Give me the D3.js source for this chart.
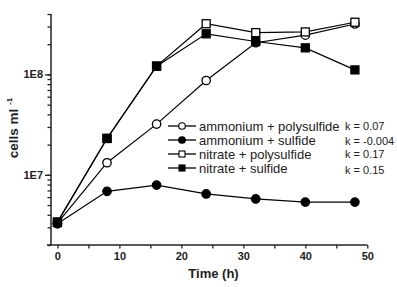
<!DOCTYPE html>
<html><head><meta charset="utf-8">
<script src="https://cdn.jsdelivr.net/npm/d3@7"></script>
<style>body{margin:0;background:#fff}svg{display:block}text{font-family:"Liberation Sans",Arial,sans-serif}</style>
</head><body>
<script>
const times = [0, 8, 16, 24, 32, 40, 48];
const seriesNames = ["ammonium + polysulfide", "ammonium + sulfide", "nitrate + polysulfide", "nitrate + sulfide"];
const kLabels = ["k = 0.07", "k = -0.004", "k = 0.17", "k = 0.15"];
const ammoniumPolysulfide = [3.3e6, 1.32e7, 3.2e7, 8.7e7, 2.07e8, 2.46e8, 3.18e8];
const ammoniumSulfide = [3.25e6, 6.85e6, 7.9e6, 6.45e6, 5.75e6, 5.35e6, 5.35e6];
const nitratePolysulfide = [3.4e6, 2.3e7, 1.21e8, 3.2e8, 2.61e8, 2.65e8, 3.31e8];
const nitrateSulfide = [3.35e6, 2.31e7, 1.21e8, 2.54e8, 2.13e8, 1.84e8, 1.11e8];
const xTicks = [0, 10, 20, 30, 40, 50];
const yLabelTicks = [1e7, 1e8];
const yLabelText = ["1E7", "1E8"];

const series = [
  {name: seriesNames[0], k: kLabels[0], values: ammoniumPolysulfide, shape: "circle", fill: "#fff"},
  {name: seriesNames[1], k: kLabels[1], values: ammoniumSulfide, shape: "circle", fill: "#000"},
  {name: seriesNames[2], k: kLabels[2], values: nitratePolysulfide, shape: "square", fill: "#fff"},
  {name: seriesNames[3], k: kLabels[3], values: nitrateSulfide, shape: "square", fill: "#000"}
];

const W = 397, H = 287;
const svg = d3.select("body").append("svg").attr("width", W).attr("height", H);
const x = d3.scaleLinear().domain([-1.2, 50]).range([50, 367.3]);
const y = d3.scaleLog().domain([2e6, 4e8]).range([245, 14]);

// y axis
const yMinor = [];
for (let d = 1e6; d <= 1e8; d *= 10) for (let m = 1; m <= 9; m++) { const v = m * d; if (v >= 2e6 && v <= 4e8) yMinor.push(v); }
const yAxis = d3.axisLeft(y).tickValues(yMinor).tickSize(3.5).tickFormat("");
const gy = svg.append("g").attr("transform", "translate(51,0)").call(yAxis);
gy.select(".domain").attr("d", "M0,14V245");
const gy2 = svg.append("g").attr("transform", "translate(51,0)")
  .call(d3.axisLeft(y).tickValues(yLabelTicks).tickSize(6).tickPadding(2).tickFormat((d, i) => yLabelText[i]));
gy2.select(".domain").remove();
svg.selectAll("g .tick line").attr("stroke", "#222").attr("stroke-width", 1.3);
gy.select(".domain").attr("stroke", "#222").attr("stroke-width", 1.5);
gy2.selectAll("text").attr("font-size", 11).attr("font-weight", "bold").attr("fill", "#222");

// x axis
const gx = svg.append("g").attr("transform", "translate(0,245)")
  .call(d3.axisBottom(x).tickValues(d3.range(0, 51, 5)).tickSize(3.5).tickFormat(""));
gx.select(".domain").attr("d", `M${x(-1.2) - 3},0H${x(50)}`).attr("stroke", "#222").attr("stroke-width", 1.5);
gx.selectAll(".tick line").attr("stroke", "#222").attr("stroke-width", 1.3);
const gx2 = svg.append("g").attr("transform", "translate(0,245)")
  .call(d3.axisBottom(x).tickValues(xTicks).tickSize(0).tickPadding(7).tickFormat(d3.format("d")));
gx2.select(".domain").remove();
gx2.selectAll("text").attr("font-size", 11).attr("font-weight", "bold").attr("fill", "#222");

// titles
svg.append("text").attr("x", 213.5).attr("y", 278).attr("text-anchor", "middle")
  .attr("font-size", 13).attr("font-weight", "bold").attr("fill", "#222").text("Time (h)");
const yt = svg.append("text").attr("transform", "translate(18,128) rotate(-90)").attr("text-anchor", "middle")
  .attr("font-size", 13.5).attr("font-weight", "bold").attr("fill", "#222");
yt.append("tspan").text("cells ml ");
yt.append("tspan").attr("font-size", 8).attr("dy", -6).text("-1");

// lines and markers
const line = d3.line().x((d, i) => x(times[i])).y(d => y(d));
function marker(g, shape, fill, cx, cy) {
  if (shape === "circle") g.append("circle").attr("cx", cx).attr("cy", cy).attr("r", 4.2).attr("fill", fill).attr("stroke", "#000").attr("stroke-width", 1.3);
  else g.append("rect").attr("x", cx - 4).attr("y", cy - 4).attr("width", 8).attr("height", 8).attr("fill", fill).attr("stroke", "#000").attr("stroke-width", 1.3);
}
const plot = svg.append("g");
series.forEach(s => {
  plot.append("path").attr("d", line(s.values)).attr("fill", "none").attr("stroke", "#000").attr("stroke-width", 1.2);
});
series.forEach(s => {
  s.values.forEach((v, i) => marker(plot, s.shape, s.fill, x(times[i]), y(v)));
});

// legend
const legRows = [126, 140, 154, 168];
const kRows = [126, 141, 154, 170];
series.forEach((s, i) => {
  const g = svg.append("g");
  g.append("line").attr("x1", 168).attr("x2", 196).attr("y1", legRows[i]).attr("y2", legRows[i]).attr("stroke", "#000").attr("stroke-width", 1.3);
  if (s.shape === "circle") g.append("circle").attr("cx", 182).attr("cy", legRows[i]).attr("r", 3.3).attr("fill", s.fill).attr("stroke", "#000").attr("stroke-width", 1.1);
  else g.append("rect").attr("x", 179).attr("y", legRows[i] - 3).attr("width", 6).attr("height", 6).attr("fill", s.fill).attr("stroke", "#000").attr("stroke-width", 1.1);
  g.append("text").attr("x", 199).attr("y", legRows[i] + 4.5).attr("font-size", 13).attr("fill", "#222").text(s.name);
  g.append("text").attr("x", 345).attr("y", kRows[i] + 4.3).attr("font-size", 11).attr("fill", "#222").text(s.k);
});
</script>
</body></html>
